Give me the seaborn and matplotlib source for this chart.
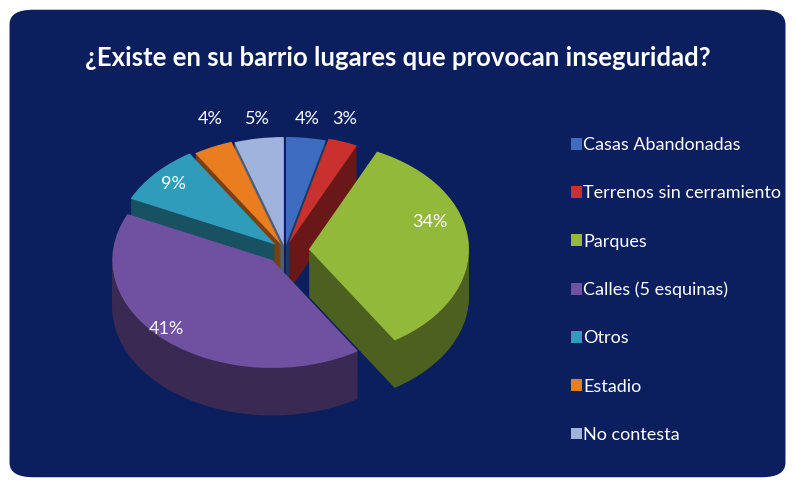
import numpy as np
import seaborn as sns
import matplotlib.pyplot as plt
import matplotlib.colors as mcolors
from matplotlib.patches import FancyBboxPatch

categorias = ["Casas Abandonadas", "Terrenos sin cerramiento", "Parques",
              "Calles (5 esquinas)", "Otros", "Estadio", "No contesta"]
porcentajes = [4, 3, 34, 41, 9, 4, 5]
colores = ["#3d6cc0", "#c8312d", "#93b93b", "#7050a0", "#2f9cbc", "#ea7d1f", "#9fb4dc"]

titulo = "¿Existe en su barrio lugares que provocan inseguridad?"

sns.set_style("white")
plt.rcParams["font.family"] = ["Lato", "DejaVu Sans"]

fig = plt.figure(figsize=(7.95, 4.86), dpi=100)
fig.patch.set_facecolor("white")

# rounded navy panel
fondo = FancyBboxPatch((0.012, 0.018), 0.976, 0.962, boxstyle="round,pad=0,rounding_size=0.03",
                       transform=fig.transFigure, facecolor="#0b1f5e", edgecolor="none", zorder=-5)
fig.patches.append(fondo)

fig.text(0.5, 0.88, titulo, color="white", fontsize=18.5, fontweight="bold",
         ha="center", va="center")

ax = fig.add_axes([54 / 795, 36 / 486, 462 / 795, 340 / 486])
ax.set_zorder(2)
ax.patch.set_alpha(0)

explode = [0.05, 0.07, 0.15, 0.12, 0.08, 0.06, 0.05]
oscuros = [tuple(np.array(mcolors.to_rgb(c)) * 0.52) for c in colores]

# side of the 3D pie: stack of darker pies shifted down
capas = 36
grosor = 0.44
for k in range(capas, 0, -1):
    ax.pie(porcentajes, colors=oscuros, startangle=90, counterclock=False,
           explode=explode, center=(0, -grosor * k / capas), radius=1,
           wedgeprops=dict(linewidth=0), frame=True)

wedges, _ = ax.pie(porcentajes, colors=colores, startangle=90, counterclock=False,
                   explode=explode, center=(0, 0), radius=1,
                   wedgeprops=dict(linewidth=0), frame=True)
ax.set_aspect("auto")
ax.set_xlim(-1.444, 1.444)
ax.set_ylim(-1.85, 1.3)
ax.axis("off")

# percent labels: big slices inside, small ones in a row above the pie
total = sum(porcentajes)
acum = 0
for v, e in zip(porcentajes, explode):
    medio = np.deg2rad(90 - 360 * (acum + v / 2) / total)
    acum += v
    if v > 6:
        r = 0.85 + e
        x, y = r * np.cos(medio), r * np.sin(medio)
        if v > 30 and abs(np.cos(medio)) > 0.9:
            x -= 0.09
            y += 0.2
        elif v > 30:
            x -= 0.1
    else:
        x, y = 1.1 * np.cos(medio), 1.22
    ax.text(x, y, f"{v}%", color="white", fontsize=13, ha="center", va="center")

leg = fig.legend(wedges, categorias, loc="upper left", bbox_to_anchor=(555 / 795, 1 - 121 / 486),
                 frameon=False, fontsize=13, labelcolor="white", handlelength=0.6,
                 handleheight=0.6, handletextpad=0.05, labelspacing=1.78)

plt.savefig("out.png", dpi=100, facecolor=fig.get_facecolor())
